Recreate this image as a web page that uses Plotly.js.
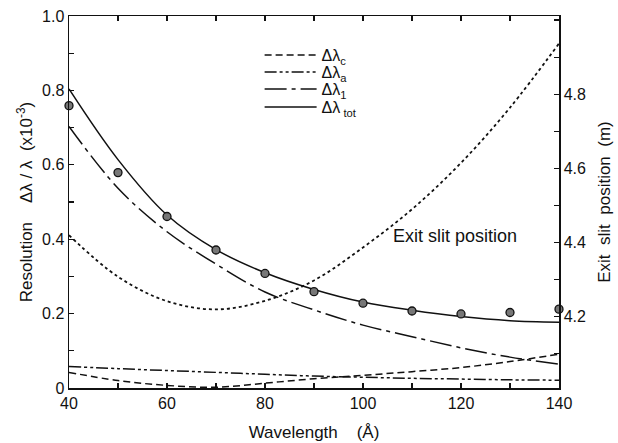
<!DOCTYPE html>
<html><head><meta charset="utf-8">
<script src="https://cdn.plot.ly/plotly-3.0.1.min.js"></script>
<style>html,body{margin:0;padding:0;background:#fff}#chart{width:618px;height:443px}</style>
</head><body><div id="chart"></div>
<script>
// Wavelength (Å)
const wavelength = [40, 50, 60, 70, 80, 90, 100, 110, 120, 130, 140];
// Resolution contributions Δλ/λ (x10^-3)
const dlC   = [0.042, 0.020, 0.007, 0.002, 0.013, 0.025, 0.034, 0.044, 0.055, 0.071, 0.091];
const dlA   = [0.058, 0.052, 0.047, 0.042, 0.037, 0.032, 0.029, 0.026, 0.024, 0.022, 0.021];
const dl1   = [0.703, 0.537, 0.420, 0.333, 0.258, 0.210, 0.169, 0.138, 0.108, 0.083, 0.064];
const dlTot = [0.804, 0.614, 0.465, 0.372, 0.310, 0.265, 0.231, 0.209, 0.192, 0.181, 0.177];
// Measured resolution points
const measured = [0.759, 0.579, 0.461, 0.371, 0.308, 0.259, 0.228, 0.207, 0.199, 0.203, 0.212];
// Exit slit position (m), right axis
const exitSlit = [4.420, 4.308, 4.242, 4.220, 4.243, 4.298, 4.387, 4.490, 4.615, 4.764, 4.937];

// Tick labels (major); minor ticks every half step
const xTickVals = [40, 60, 80, 100, 120, 140];
const xTickText = ['40', '60', '80', '100', '120', '140'];
const yTickVals = [0, 0.2, 0.4, 0.6, 0.8, 1.0];
const yTickText = ['0', '0.2', '0.4', '0.6', '0.8', '1.0'];
const y2TickVals = [4.2, 4.4, 4.6, 4.8];
const y2TickText = ['4.2', '4.4', '4.6', '4.8'];

const INK = '#111';
const FONT = 'Liberation Sans, Arial, Helvetica, sans-serif';
const nb = n => '\u00a0'.repeat(n);

const traces = [
  {x: wavelength, y: dlC, name: 'Δλ<sub>c</sub>', mode: 'lines', legend: 'legend',
   line: {color: INK, width: 1.5, dash: '7px,4px', shape: 'spline'}},
  {x: wavelength, y: dlA, name: 'Δλ<sub>a</sub>', mode: 'lines', legend: 'legend2',
   line: {color: INK, width: 1.5, dash: '12px,3px,3px,3px,3px,3px', shape: 'spline'}},
  {x: wavelength, y: dl1, name: 'Δλ<sub>1</sub>', mode: 'lines', legend: 'legend3',
   line: {color: INK, width: 1.5, dash: '22px,5px,4px,5px', shape: 'spline'}},
  {x: wavelength, y: dlTot, name: 'Δλ<sub> tot</sub>', mode: 'lines', legend: 'legend4',
   line: {color: INK, width: 1.5, shape: 'spline'}},
  {x: wavelength, y: exitSlit, yaxis: 'y2', mode: 'lines', showlegend: false,
   line: {color: INK, width: 1.8, dash: 'dot', shape: 'spline'}},
  {x: wavelength, y: measured, mode: 'markers', showlegend: false, cliponaxis: false,
   marker: {size: 8, color: '#777', line: {color: INK, width: 1.3}}}
];

const axisCommon = {
  ticks: 'inside', ticklen: 5, tickwidth: 1.2, tickcolor: INK,
  showline: true, linecolor: INK, linewidth: 1.5,
  showgrid: false, zeroline: false, tickfont: {size: 16, color: INK}
};

function legendAt(yPx) {
  return {x: 0.389, y: 1 - (yPx - 16) / 372, xanchor: 'left', yanchor: 'middle',
          bgcolor: 'rgba(0,0,0,0)', font: {size: 16, color: INK}, itemwidth: 52};
}

const layout = {
  width: 618, height: 443,
  margin: {l: 69, r: 59, t: 16, b: 55},
  paper_bgcolor: '#fff', plot_bgcolor: '#fff',
  font: {family: FONT, size: 16, color: INK},
  showlegend: true,
  legend: legendAt(55),
  legend2: legendAt(72),
  legend3: legendAt(89),
  legend4: legendAt(107),
  xaxis: Object.assign({}, axisCommon, {
    range: [40, 140], tickvals: xTickVals, ticktext: xTickText, mirror: 'ticks',
    minor: {dtick: 10, tick0: 40, ticks: 'inside', ticklen: 5, tickwidth: 1.2, tickcolor: INK},
    title: {text: 'Wavelength' + nb(4) + '(Å)', font: {size: 17, color: INK}, standoff: 15}
  }),
  yaxis: Object.assign({}, axisCommon, {
    range: [0, 1.0], tickvals: yTickVals, ticktext: yTickText,
    minor: {dtick: 0.1, tick0: 0, ticks: 'inside', ticklen: 5, tickwidth: 1.2, tickcolor: INK},
    title: {text: nb(6) + 'Resolution' + nb(4) + 'Δλ / λ' + nb(2) + '(x10<sup>-3</sup>)',
            font: {size: 17, color: INK}, standoff: 5}
  }),
  yaxis2: Object.assign({}, axisCommon, {
    overlaying: 'y', side: 'right', range: [4.008, 5.011],
    tickvals: y2TickVals, ticktext: y2TickText,
    minor: {dtick: 0.1, tick0: 4.1, ticks: 'inside', ticklen: 5, tickwidth: 1.2, tickcolor: INK},
    title: {text: 'Exit' + nb(2) + 'slit' + nb(2) + 'position' + nb(2) + '(m)' + nb(7),
            font: {size: 17, color: INK}, standoff: 13}
  }),
  annotations: [{
    text: 'Exit slit position', xref: 'x', yref: 'y', x: 118.7, y: 0.409,
    showarrow: false, font: {size: 18, color: INK}
  }]
};

Plotly.newPlot('chart', traces, layout, {displayModeBar: false, staticPlot: true});
</script>
</body></html>
